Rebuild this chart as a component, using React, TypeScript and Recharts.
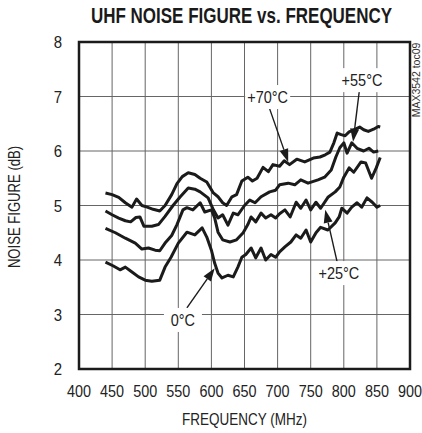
import { CartesianGrid, Line, LineChart, ReferenceArea, ReferenceDot, ReferenceLine, XAxis, YAxis } from "recharts";

// no condensed face installed: use a smaller Liberation Sans and stretch it vertically
const FONT = '"Liberation Sans", Arial, sans-serif';
const INK = "#1b1b1b";
const TXT = "#222";

const freqTicks = [400, 450, 500, 550, 600, 650, 700, 750, 800, 850, 900];
const nfTicks = [2, 3, 4, 5, 6, 7, 8];

// +70°C (top curve)
const f70 = [440, 450, 460, 470, 480, 487, 495, 503, 512, 522, 530, 540, 548, 556, 565, 575, 583, 593, 603, 610, 617, 623, 631, 638, 646, 655, 662, 669, 678, 686, 693, 703, 710, 718, 729, 741, 754, 764, 772, 779, 785, 790, 796, 802, 808, 815, 824, 830, 837, 845, 852, 855];
const nf70 = [5.23, 5.2, 5.15, 5.05, 4.97, 5.12, 5.0, 4.97, 4.93, 4.9, 5.0, 5.2, 5.4, 5.53, 5.6, 5.57, 5.5, 5.43, 5.23, 5.16, 5.05, 5.0, 5.16, 5.2, 5.45, 5.52, 5.45, 5.5, 5.7, 5.62, 5.75, 5.72, 5.82, 5.75, 5.85, 5.8, 5.87, 5.89, 5.93, 5.98, 6.15, 6.33, 6.3, 6.28, 6.35, 6.39, 6.44, 6.39, 6.36, 6.4, 6.45, 6.44];

// +55°C
const f55 = [440, 450, 460, 470, 478, 486, 492, 498, 510, 520, 530, 542, 553, 565, 575, 583, 595, 603, 610, 617, 625, 633, 640, 650, 658, 666, 675, 688, 697, 703, 716, 726, 735, 746, 761, 771, 781, 788, 794, 800, 805, 812, 820, 830, 838, 845, 852];
const nf55 = [4.9, 4.83, 4.77, 4.72, 4.7, 4.78, 4.79, 4.62, 4.62, 4.65, 4.8, 5.0, 5.16, 5.32, 5.3, 5.25, 5.14, 4.92, 4.77, 4.83, 4.64, 4.86, 4.83, 5.0, 5.1, 5.05, 5.16, 5.25, 5.28, 5.38, 5.41, 5.38, 5.47, 5.41, 5.47, 5.52, 5.65, 5.89, 6.06, 6.15, 5.96, 6.15, 6.05, 6.0, 6.05, 5.98, 6.0];

// +25°C
const f25 = [440, 455, 470, 485, 495, 505, 515, 522, 530, 540, 548, 557, 563, 572, 583, 590, 600, 605, 610, 617, 628, 638, 648, 655, 660, 667, 675, 682, 690, 697, 703, 711, 719, 728, 735, 743, 750, 758, 765, 776, 787, 794, 800, 808, 815, 826, 833, 842, 849, 855];
const nf25 = [4.58, 4.5, 4.4, 4.31, 4.2, 4.22, 4.18, 4.17, 4.31, 4.45, 4.65, 4.92, 4.96, 4.92, 5.05, 4.88, 4.92, 4.77, 4.51, 4.37, 4.33, 4.37, 4.5, 4.65, 4.79, 4.7, 4.86, 4.77, 4.83, 4.77, 4.85, 4.92, 4.79, 5.06, 4.95, 5.1, 4.92, 5.06, 4.95, 5.15, 5.25, 5.34, 5.52, 5.69, 5.61, 5.8, 5.78, 5.5, 5.69, 5.88];

// 0°C (bottom curve)
const f0 = [440, 452, 462, 470, 480, 490, 500, 510, 522, 530, 539, 550, 563, 575, 586, 593, 600, 605, 610, 616, 625, 633, 640, 646, 652, 660, 667, 675, 682, 690, 697, 703, 711, 720, 728, 735, 743, 750, 758, 765, 776, 787, 793, 797, 805, 812, 820, 827, 835, 843, 850, 855];
const nf0 = [3.96, 3.89, 3.82, 3.87, 3.78, 3.69, 3.63, 3.61, 3.63, 3.87, 4.05, 4.31, 4.51, 4.46, 4.59, 4.42, 4.18, 3.94, 3.76, 3.67, 3.72, 3.69, 3.87, 4.05, 4.1, 4.22, 4.04, 4.22, 4.0, 4.1, 4.05, 4.15, 4.24, 4.33, 4.46, 4.4, 4.55, 4.33, 4.5, 4.6, 4.55, 4.68, 4.79, 4.95, 4.86, 4.97, 5.05, 4.97, 5.14, 5.06, 4.97, 5.0];

const zip = (f: number[], v: number[]) => f.map((x, i) => ({ f: x, nf: v[i] }));

const series = [zip(f70, nf70), zip(f55, nf55), zip(f25, nf25), zip(f0, nf0)];

// callouts: label centre and arrow (from -> tip), in data units
const callouts = [
  { text: "+70°C", at: [685, 6.99], w: 45, from: [685.5, 6.86], to: [716, 5.8] },
  { text: "+55°C", at: [827.5, 7.3], w: 46, from: [824, 7.16], to: [814, 6.17] },
  { text: "0°C", at: [557, 2.9], w: 38, from: [563, 3.12], to: [605, 3.85] },
  { text: "+25°C", at: [792.5, 3.76], w: 45, from: [790, 3.96], to: [772, 4.92] },
];

function Tall({ x, y, size, sy, anchor = "middle", rot = 0, weight = 400, fill = TXT, children }: any) {
  return (
    <text
      transform={`translate(${x},${y}) rotate(${rot}) scale(1,${sy})`}
      textAnchor={anchor}
      fontFamily={FONT}
      fontSize={size}
      fontWeight={weight}
      fill={fill}
    >
      {children}
    </text>
  );
}

function Arrow(p: any) {
  const { x1, y1, x2, y2 } = p;
  const a = Math.atan2(y2 - y1, x2 - x1);
  const L = 13;
  const W = 4.5;
  const bx = x2 - L * Math.cos(a);
  const by = y2 - L * Math.sin(a);
  const pts = [
    [x2, y2],
    [bx + W * Math.sin(a), by - W * Math.cos(a)],
    [bx - W * Math.sin(a), by + W * Math.cos(a)],
  ]
    .map((q) => q.join(","))
    .join(" ");
  return (
    <g>
      <line x1={x1} y1={y1} x2={bx} y2={by} stroke={INK} strokeWidth={1.4} />
      <polygon points={pts} fill={INK} />
    </g>
  );
}

function Tag({ cx, cy, text, w }: any) {
  return (
    <g>
      <rect x={cx - w / 2} y={cy - 12} width={w} height={24} fill="#fff" />
      <Tall x={cx} y={cy + 6.1} size={14.5} sy={1.17}>
        {text}
      </Tall>
    </g>
  );
}

const XTick = ({ x, y, payload }: any) => (
  <Tall x={x} y={y + 12} size={14.4} sy={1.16}>
    {payload.value}
  </Tall>
);

const YTick = ({ x, y, payload }: any) => (
  <Tall x={x} y={y + 6} size={15} sy={1.12} anchor="end">
    {payload.value}
  </Tall>
);

export default function App() {
  return (
    <div style={{ position: "absolute", left: 0, top: 0, width: 422, height: 433, background: "#fff" }}>
      <LineChart width={422} height={433} margin={{ top: 42, right: 12, bottom: 34, left: 0 }} style={{ position: "absolute", left: 0, top: 0 }}>
        <CartesianGrid stroke="#666" strokeWidth={1} />
        <XAxis
          dataKey="f"
          type="number"
          domain={[400, 900]}
          ticks={freqTicks}
          allowDuplicatedCategory={false}
          tickLine={false}
          axisLine={false}
          height={30}
          tickMargin={10}
          tick={XTick}
        />
        <YAxis type="number" domain={[2, 8]} ticks={nfTicks} tickLine={false} axisLine={false} width={79} tickMargin={11} tick={YTick} />
        {series.map((d, i) => (
          <Line
            key={i}
            data={d}
            dataKey="nf"
            type="linear"
            stroke={INK}
            strokeWidth={3}
            strokeLinejoin="round"
            dot={false}
            activeDot={false}
            isAnimationActive={false}
          />
        ))}
        <ReferenceArea x1={400} x2={900} y1={2} y2={8} fill="none" stroke={INK} strokeWidth={2.5} />
        {callouts.map((c) => (
          <ReferenceLine
            key={"a" + c.text}
            segment={[
              { x: c.from[0], y: c.from[1] },
              { x: c.to[0], y: c.to[1] },
            ]}
            shape={Arrow}
          />
        ))}
        {callouts.map((c) => (
          <ReferenceDot
            key={"t" + c.text}
            x={c.at[0]}
            y={c.at[1]}
            r={0}
            shape={(p: any) => <Tag {...p} text={c.text} w={c.w} />}
          />
        ))}
      </LineChart>
      <svg width={422} height={433} style={{ position: "absolute", left: 0, top: 0, pointerEvents: "none" }}>
        <Tall x={241.5} y={23} size={17} sy={1.3} weight={700} fill="#1a1a1a">
          UHF NOISE FIGURE vs. FREQUENCY
        </Tall>
        <Tall x={244.5} y={425} size={13.5} sy={1.24}>
          FREQUENCY (MHz)
        </Tall>
        <Tall x={20} y={207} size={13.1} sy={1.27} rot={-90}>
          NOISE FIGURE (dB)
        </Tall>
        <Tall x={420} y={80} size={10.5} sy={1} rot={-90} fill="#333">
          MAX3542 toc09
        </Tall>
      </svg>
    </div>
  );
}
